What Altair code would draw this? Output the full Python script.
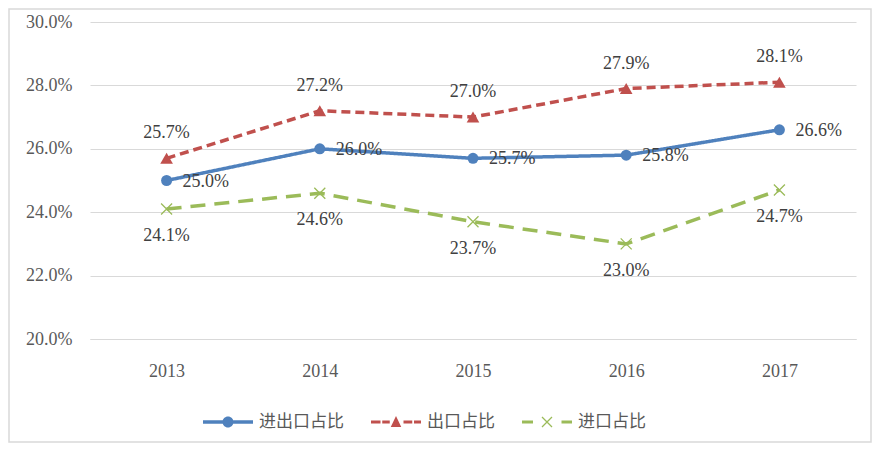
import altair as alt
import pandas as pd

years = ["2013", "2014", "2015", "2016", "2017"]
series_names = ["进出口占比", "出口占比", "进口占比"]
total_share = [25.0, 26.0, 25.7, 25.8, 26.6]
export_share = [25.7, 27.2, 27.0, 27.9, 28.1]
import_share = [24.1, 24.6, 23.7, 23.0, 24.7]
y_ticks = [0.20, 0.22, 0.24, 0.26, 0.28, 0.30]

colors = ["#4F81BD", "#C0504D", "#9BBB59"]
dashes = [[1, 0], [9, 5], [15, 9]]
marker_shapes = ["circle", "triangle-up", "M-1,-1L1,1M-1,1L1,-1"]
marker_sizes = [121, 160, 121]
marker_filled = [True, True, False]

# legend symbols: line segments + marker drawn as filled paths in [-1,1] box
legend_paths = [
    "M-1,-0.07H-0.21V0.07H-1Z M0.21,-0.07H1V0.07H0.21Z "
    "M-0.22,0A0.22,0.22 0 1,1 0.22,0A0.22,0.22 0 1,1 -0.22,0Z",
    "M-1,-0.06H-0.62V0.06H-1Z M-0.55,-0.06H-0.25V0.06H-0.55Z "
    "M0,-0.24L0.21,0.2L-0.21,0.2Z "
    "M0.3,-0.06H0.65V0.06H0.3Z M0.72,-0.06H1V0.06H0.72Z",
    "M-1,-0.06H-0.56V0.06H-1Z M0.58,-0.06H1V0.06H0.58Z "
    "M-0.182,-0.218L0.218,0.182L0.182,0.218L-0.218,-0.182Z "
    "M-0.182,0.218L-0.218,0.182L0.182,-0.218L0.218,-0.182Z",
]

rows = []
for name, vals in zip(series_names, [total_share, export_share, import_share]):
    for yr, v in zip(years, vals):
        rows.append({"year": yr, "series": name, "value": v / 100, "label": f"{v:.1f}%"})
df = pd.DataFrame(rows)

W, H = 766, 317
NUM_FONT = "Liberation Serif"

x_enc = alt.X(
    "year:O",
    scale=alt.Scale(type="point", padding=0.5),
    axis=alt.Axis(title=None, labelAngle=0, ticks=False, grid=False, domain=True,
                  domainColor="#D9D9D9", labelPadding=23),
)
y_enc = alt.Y(
    "value:Q",
    scale=alt.Scale(domain=[0.2, 0.3], nice=False, zero=False),
    axis=alt.Axis(title=None, values=y_ticks, format=".1%", ticks=False, domain=False,
                  grid=True, gridColor="#D9D9D9", labelPadding=18),
)

base = alt.Chart(df)
layers = []

# chart border
layers.append(
    alt.Chart(alt.InlineData(values=[{"a": 1}])).mark_rect(
        fillOpacity=0, stroke="#D9D9D9", strokeWidth=1.5
    ).encode(
        x=alt.value(-81), x2=alt.value(W + 15), y=alt.value(-13), y2=alt.value(H + 103)
    )
)

label_specs = [
    dict(align="left", dx=16, dy=1),
    dict(align="center", dx=0, dy=-25),
    dict(align="center", dx=0, dy=27),
]

for i, name in enumerate(series_names):
    sub = base.transform_filter(alt.datum.series == name)
    layers.append(
        sub.mark_line(color=colors[i], strokeWidth=3.5, strokeDash=dashes[i],
                      strokeJoin="round", interpolate="linear").encode(x=x_enc, y=y_enc)
    )
    if marker_filled[i]:
        pm = sub.mark_point(shape=marker_shapes[i], size=marker_sizes[i], filled=True,
                            color=colors[i], opacity=1)
    else:
        pm = sub.mark_point(shape=marker_shapes[i], size=marker_sizes[i], filled=False,
                            color=colors[i], strokeWidth=1.3, opacity=1)
    layers.append(pm.encode(x=x_enc, y=y_enc))
    layers.append(
        sub.mark_text(font=NUM_FONT, fontSize=18, color="#404040", baseline="middle",
                      **label_specs[i]).encode(x=x_enc, y=y_enc, text="label:N")
    )

legend_def = alt.Legend(
    title=None, orient="none", direction="horizontal", legendX=113, legendY=375,
    symbolSize=2500, symbolStrokeWidth=0, symbolOpacity=1,
    labelFont="Noto Sans CJK SC", labelFontSize=17, labelColor="#595959",
    labelOffset=6, columnPadding=27,
)
layers.append(
    base.transform_filter("false").mark_point(filled=True, opacity=1, strokeWidth=0).encode(
        x=x_enc, y=y_enc,
        color=alt.Color("series:N", scale=alt.Scale(domain=series_names, range=colors),
                        legend=legend_def),
        shape=alt.Shape("series:N", scale=alt.Scale(domain=series_names, range=legend_paths),
                        legend=legend_def),
    )
)

chart = alt.layer(*layers).properties(
    width=W, height=H,
    autosize=alt.AutoSizeParams(type="none"),
    padding={"left": 82, "top": 14, "right": 16, "bottom": 104},
    background="white",
).configure_view(stroke=None).configure_axis(
    labelFont=NUM_FONT, labelFontSize=18, labelColor="#595959"
)

chart.save("out.html", embed_options={"renderer": "svg", "actions": False})
